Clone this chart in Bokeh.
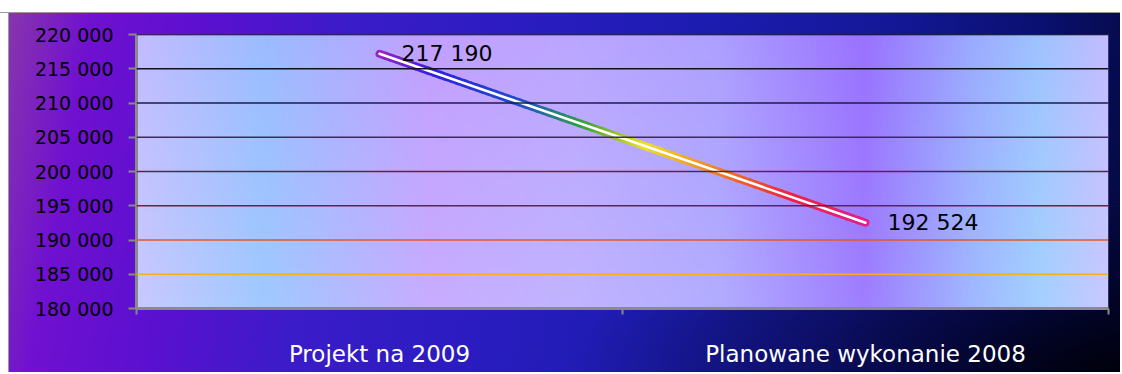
import numpy as np
from bokeh.plotting import figure
from bokeh.models import Range1d, FixedTicker, CustomJSTickFormatter, Span, ColumnDataSource, LabelSet
from bokeh.core.properties import value
from bokeh.embed import file_html
from bokeh.resources import INLINE

# ---- data ----
categories = ["Projekt na 2009", "Planowane wykonanie 2008"]
values = [217190, 192524]
value_labels = ["217 190", "192 524"]
y_ticks = [180000, 185000, 190000, 195000, 200000, 205000, 210000, 215000, 220000]

# ---- styles ----
grid_colors = ["#f0b020", "#e05a28", "#7a1840", "#602050", "#3c2a5c", "#1c1c48", "#101020", "#000000"]
line_stops = [(0.0, "#a020c0"), (0.12, "#3020e0"), (0.3, "#2050c8"), (0.42, "#30a040"),
              (0.55, "#f0e020"), (0.7, "#f08020"), (0.85, "#f02040"), (1.0, "#e0208a")]
bg_stops = [(0.0, "#c8c8ff"), (0.13, "#9cc8ff"), (0.3, "#c8a8ff"), (0.45, "#c0b0ff"),
            (0.6, "#b0a8ff"), (0.75, "#9a74ff"), (0.86, "#9cb4ff"), (0.93, "#a0d0ff"), (1.0, "#c8c8ff")]


def hex2rgb(h):
    return np.array([int(h[i:i + 2], 16) for i in (1, 3, 5)], dtype=float)


def interp(stops, t):
    ts = [s[0] for s in stops]
    cs = np.array([hex2rgb(s[1]) for s in stops])
    return np.array([np.interp(t, ts, cs[:, k]) for k in range(3)]).T


n_x = len(categories)
xs = [i + 0.5 for i in range(n_x)]

p = figure(width=1120, height=372, x_range=Range1d(0, n_x), y_range=Range1d(y_ticks[0], y_ticks[-1]),
           output_backend="svg", toolbar_location=None,
           min_border_left=136, min_border_right=12, min_border_top=34, min_border_bottom=64)
p.border_fill_color = None
p.background_fill_color = None
p.outline_line_color = None
p.grid.visible = False
p.styles = {
    "background": (
        "linear-gradient(to bottom, #ffffff 0px, #ffffff 12px, #9a9a9a 12px, #9a9a9a 13px, rgba(0,0,0,0) 13px),"
        "linear-gradient(to right, #ffffff 0px, #ffffff 8px, #9a9a9a 8px, #9a9a9a 9px, rgba(0,0,0,0) 9px),"
        "radial-gradient(ellipse at 100% 100%, rgba(0,0,10,0.95) 0%, rgba(0,0,20,0.6) 12%, rgba(0,0,0,0) 35%),"
        "linear-gradient(100deg, #8a3aa8 0%, #7010d0 8%, #5a10d0 18%, #3a1cc8 30%, #2a1cc0 45%, "
        "#1c1cb0 60%, #141898 75%, #0a1070 88%, #040838 100%)"
    )
}

# plot-area gradient
nx_img, ny_img = 300, 40
tx = np.linspace(0, 1, nx_img)
row = interp(bg_stops, tx)
img = np.zeros((ny_img, nx_img, 4), dtype=np.uint8)
for j in range(ny_img):
    f = j / (ny_img - 1)  # 0 bottom, 1 top
    tint = row * (1 - 0.12 * f) + np.array([150, 100, 255]) * 0.12 * f
    light = tint * (1 - 0.1 * (1 - f)) + np.array([200, 215, 255]) * 0.1 * (1 - f)
    img[j, :, 0:3] = np.clip(light, 0, 255).astype(np.uint8)
    img[j, :, 3] = 255
p.image_rgba(image=[img.view(dtype=np.uint32).reshape(ny_img, nx_img)], x=0, y=y_ticks[0],
             dw=n_x, dh=y_ticks[-1] - y_ticks[0])

# gridlines
for v, c in zip(y_ticks[1:], grid_colors):
    p.add_layout(Span(location=v, dimension="width", line_color=c, line_width=1.5))

# gradient line (segments between the two data points, only for colouring)
nseg = 80
t = np.linspace(0, 1, nseg + 1)
segx = xs[0] + t * (xs[1] - xs[0])
segy = values[0] + t * (values[1] - values[0])
cols = interp(line_stops, (t[:-1] + t[1:]) / 2)
seg_colors = ["#%02x%02x%02x" % tuple(int(round(v)) for v in c) for c in cols]
p.segment(x0=segx[:-1], y0=segy[:-1], x1=segx[1:], y1=segy[1:], line_color=seg_colors,
          line_width=8, line_cap="round")
p.line(xs, values, line_color="white", line_width=2.5, line_cap="round")

src = ColumnDataSource(dict(x=xs, y=values, t=value_labels))
p.add_layout(LabelSet(x="x", y="y", text="t", source=src, x_offset=22, text_baseline="middle",
                      text_font=value("DejaVu Sans"), text_font_size="22px", text_color="#000000"))

# axes
p.xaxis.ticker = FixedTicker(ticks=xs, minor_ticks=list(range(n_x + 1)))
p.xaxis.major_label_overrides = {x: c for x, c in zip(xs, categories)}
p.xaxis.major_tick_line_color = None
p.xaxis.major_tick_out = 0
p.xaxis.minor_tick_out = 6
p.xaxis.minor_tick_in = 0
p.xaxis.minor_tick_line_color = "#8a8a8a"
p.xaxis.minor_tick_line_width = 2
p.xaxis.major_label_standoff = 26
p.xaxis.major_label_text_color = "white"
p.xaxis.major_label_text_font = "DejaVu Sans"
p.xaxis.major_label_text_font_size = "23px"
p.xaxis.axis_line_color = "#8a8a8a"
p.xaxis.axis_line_width = 3

p.yaxis.ticker = FixedTicker(ticks=y_ticks)
p.yaxis.formatter = CustomJSTickFormatter(
    code="return tick.toFixed(0).replace(/\\B(?=(\\d{3})+(?!\\d))/g, ' ');")
p.yaxis.major_tick_out = 8
p.yaxis.major_tick_in = 0
p.yaxis.major_tick_line_color = "#8a8a8a"
p.yaxis.major_tick_line_width = 2
p.yaxis.minor_tick_line_color = None
p.yaxis.major_label_standoff = 15
p.yaxis.major_label_text_color = "#000000"
p.yaxis.major_label_text_font = "DejaVu Sans"
p.yaxis.major_label_text_font_size = "19px"
p.yaxis.axis_line_color = "#8a8a8a"
p.yaxis.axis_line_width = 3

open("out.html", "w").write(file_html(p, INLINE))
